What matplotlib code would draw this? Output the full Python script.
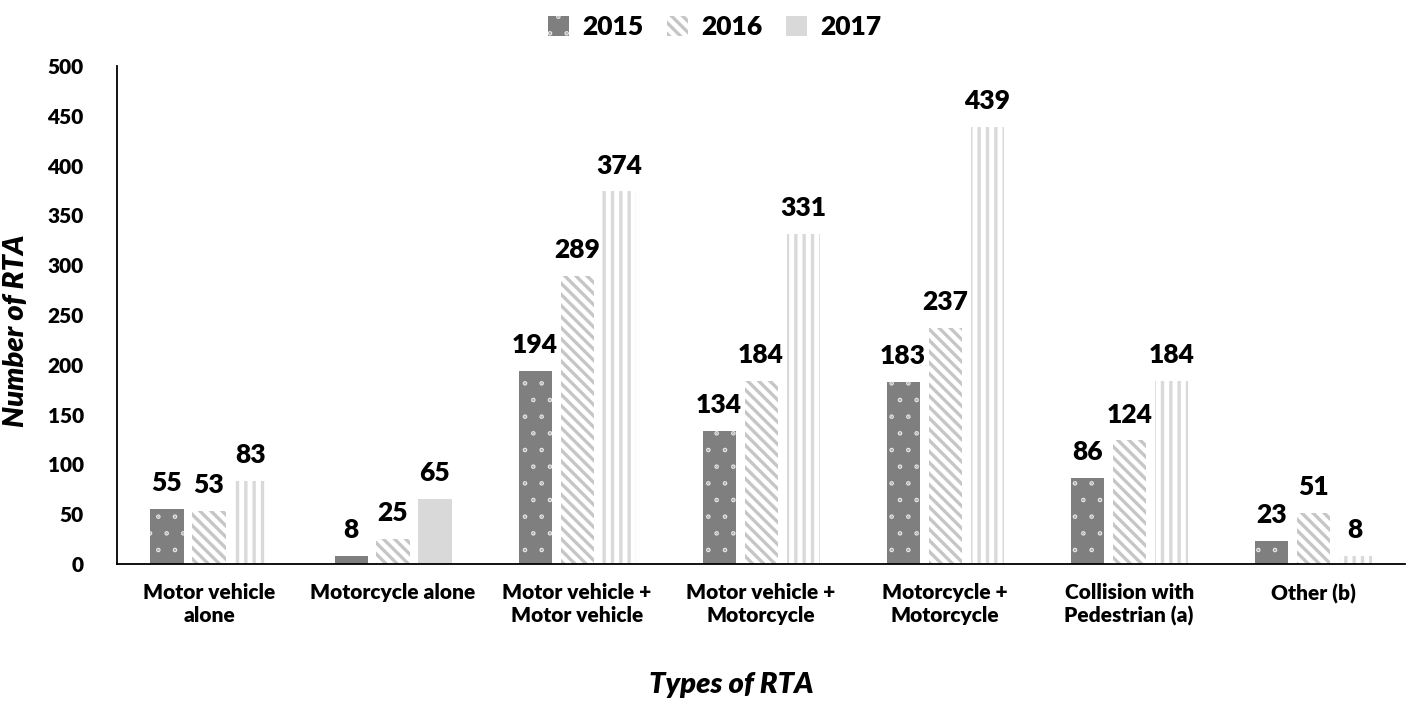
import matplotlib
matplotlib.use("Agg")
import matplotlib.pyplot as plt
import matplotlib.hatch as mhatch
from matplotlib.patches import Patch
import numpy as np

categories = ["Motor vehicle\nalone", "Motorcycle alone", "Motor vehicle +\nMotor vehicle",
              "Motor vehicle +\nMotorcycle", "Motorcycle +\nMotorcycle",
              "Collision with\nPedestrian (a)", "Other (b)"]
years = ["2015", "2016", "2017"]
v2015 = [55, 8, 194, 134, 183, 86, 23]
v2016 = [53, 25, 289, 184, 237, 124, 51]
v2017 = [83, 65, 374, 331, 439, 184, 8]
yticks = [0, 50, 100, 150, 200, 250, 300, 350, 400, 450, 500]

# tiny dots like the reference pattern
mhatch.SmallFilledCircles.size = 0.035

plt.rcParams['font.family'] = ['Lato', 'DejaVu Sans']
plt.rcParams['hatch.linewidth'] = 2.4
W = "heavy"

fig = plt.figure(figsize=(14.18, 7.09), dpi=100)
ax = fig.add_axes([0.0825, 0.2045, 0.9085, 0.7025])

x = np.arange(len(categories))
w = 0.18
off = 0.228

b1 = ax.bar(x - off, v2015, w, color="#7f7f7f", edgecolor="#e8e8e8", hatch=".", linewidth=0)
b2 = ax.bar(x, v2016, w, color="white", edgecolor="#c6c6c6", hatch="\\\\\\", linewidth=0)
b3 = []
for i, v in enumerate(v2017):
    if i == 1:
        r = ax.bar(x[i] + off, v, w, color="#d9d9d9", linewidth=0)
    else:
        r = ax.bar(x[i] + off, v, w, color="white", edgecolor="#d9d9d9", hatch="||", linewidth=0)
    b3.append(r[0])

for bars, vals in ((b1, v2015), (b2, v2016), (b3, v2017)):
    for rect, v in zip(bars, vals):
        ax.annotate(str(v), (rect.get_x() + rect.get_width() / 2, v),
                    xytext=(0, 10), textcoords="offset points",
                    ha="center", va="bottom", fontsize=19, fontweight=W)

ax.set_xlim(-0.5, len(categories) - 0.5)
ax.set_ylim(0, 500)
ax.set_yticks(yticks)
ax.set_yticklabels([str(t) for t in yticks], fontsize=15, fontweight=W)
ax.set_xticks(x)
ax.set_xticklabels(categories, fontsize=15, fontweight=W)
ax.tick_params(axis="both", length=0)
ax.tick_params(axis="y", pad=24)
ax.tick_params(axis="x", pad=14)
for s in ("top", "right"):
    ax.spines[s].set_visible(False)
for s in ("left", "bottom"):
    ax.spines[s].set_linewidth(1.3)
    ax.spines[s].set_color("black")

fig.text(0.0115, 0.533, "Number of RTA", rotation=90, ha="center", va="center",
         fontsize=21, fontweight=W, style="italic")
fig.text(0.516, 0.016, "Types of RTA", ha="center", va="bottom", fontsize=21,
         fontweight=W, style="italic")

handles = [Patch(facecolor="#7f7f7f", edgecolor="#e8e8e8", hatch=".", linewidth=0),
           Patch(facecolor="white", edgecolor="#c6c6c6", hatch="\\\\\\", linewidth=0),
           Patch(facecolor="#d9d9d9", linewidth=0)]
leg = fig.legend(handles, years, loc="upper center", bbox_to_anchor=(0.504, 1.012), ncol=3,
                 frameon=False, prop={"size": 19, "weight": W},
                 handlelength=0.8, handleheight=0.8, handletextpad=0.5, columnspacing=0.9)

fig.savefig("out.png", dpi=100)
